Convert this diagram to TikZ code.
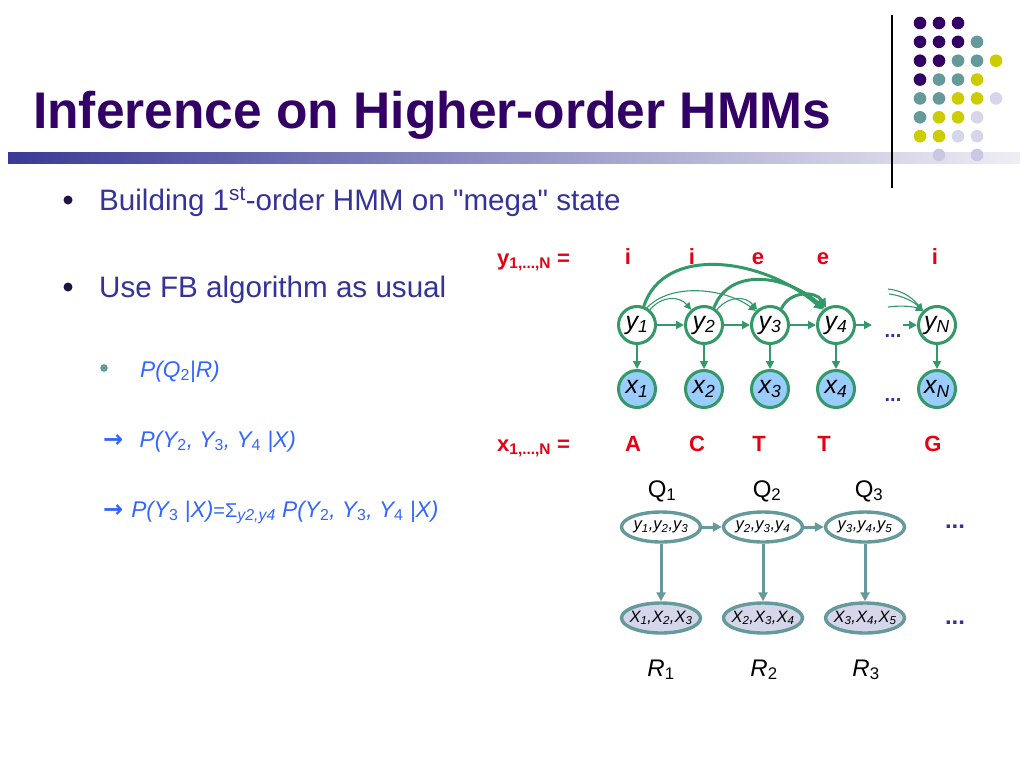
\documentclass[tikz,border=0pt]{standalone}
\usepackage{fontspec}
\setmainfont{Liberation Sans}
\newfontfamily\symfont{DejaVu Sans}
\usetikzlibrary{arrows.meta,shapes.geometric}
\definecolor{titlecol}{RGB}{51,0,102}
\definecolor{bodycol}{RGB}{51,51,153}
\definecolor{subcol}{RGB}{51,102,255}
\definecolor{hmmgreen}{RGB}{51,153,102}
\definecolor{xblue}{RGB}{153,204,255}
\definecolor{tealc}{RGB}{102,153,153}
\definecolor{lav}{RGB}{214,214,235}
\definecolor{lavdim}{RGB}{200,200,226}
\definecolor{dotpurple}{RGB}{51,0,102}
\definecolor{dotyellow}{RGB}{204,204,0}
\definecolor{redc}{RGB}{230,0,18}
\definecolor{bulletcol}{RGB}{34,17,68}
\newcommand{\usub}[1]{\textsubscript{\upshape #1}}
\newcommand{\txtarrow}{{\symfont\bfseries\fontsize{24}{26}\selectfont →}}
\begin{document}
\begin{tikzpicture}[x=1pt,y=-1pt,
  ynode/.style={circle,draw=hmmgreen,line width=3pt,fill=white,minimum size=37pt,inner sep=0pt,font=\fontsize{25}{26}\selectfont\itshape},
  xnode/.style={ynode,fill=xblue},
  garrow/.style={draw=hmmgreen,line width=1.9pt,-{Triangle[length=8pt,width=8pt]}},
  thinarrow/.style={draw=hmmgreen,line width=1.1pt,-{Triangle[length=7pt,width=7pt]}},
  thickarrow/.style={draw=hmmgreen,line width=3pt,-{Triangle[length=9pt,width=9pt]}},
  qnode/.style={ellipse,draw=tealc,line width=3.4pt,fill=white,minimum width=79pt,minimum height=30pt,inner xsep=-7pt,inner ysep=0pt,font=\fontsize{16.5}{18}\selectfont\itshape},
  rnode/.style={qnode,fill=lav},
  tarrow/.style={draw=tealc,line width=3pt,-{Triangle[length=9pt,width=9pt]}},
  redlab/.style={text=redc,font=\fontsize{22}{24}\selectfont\bfseries,inner sep=0pt},
  qlab/.style={font=\fontsize{24}{26}\selectfont,anchor=base,inner sep=0pt},
  dots/.style={text=bodycol,font=\fontsize{20}{22}\selectfont\bfseries,inner sep=0pt},
  body/.style={anchor=base west,text=bodycol,font=\fontsize{29.6}{34}\selectfont,inner sep=0pt},
  sub/.style={anchor=base west,text=subcol,font=\fontsize{22.7}{28}\selectfont,inner sep=0pt}
]
\useasboundingbox (0,0) rectangle (1024,768);
\fill[white] (0,0) rectangle (1024,768);

% header decoration
\shade[left color={rgb,255:red,58;green,58;blue,150},right color={rgb,255:red,238;green,238;blue,244}] (8,152) rectangle (1020,163);
\draw[line width=1.2pt,black] (892,15) -- (892,188);
\foreach \c/\r/\col in {0/0/dotpurple,1/0/dotpurple,2/0/dotpurple,
  0/1/dotpurple,1/1/dotpurple,2/1/dotpurple,3/1/tealc,
  0/2/dotpurple,1/2/dotpurple,2/2/tealc,3/2/tealc,4/2/dotyellow,
  0/3/dotpurple,1/3/tealc,2/3/tealc,3/3/dotyellow,
  0/4/tealc,1/4/tealc,2/4/dotyellow,3/4/dotyellow,4/4/lav,
  0/5/tealc,1/5/dotyellow,2/5/dotyellow,3/5/lav,
  0/6/dotyellow,1/6/dotyellow,2/6/lav,3/6/lav}
  \fill[\col] ({920+19*\c},{23+18.86*\r}) circle (6.3);
\fill[lavdim] (939,155) circle (6.3);
\fill[lavdim] (977,155) circle (6.3);

% title
\node[anchor=base west,text=titlecol,font=\fontsize{51.5}{60}\selectfont\bfseries,inner sep=0pt] (title) at (33,128) {Inference on Higher-order HMMs};

% bullets
\fill[bulletcol] (68,200) circle (4.5);
\node[body] (b1) at (99,210) {Building 1\textsuperscript{st}-order HMM on \textquotedbl mega\textquotedbl{} state};
\fill[bulletcol] (68,287) circle (4.5);
\node[body] (b2) at (99,297) {Use FB algorithm as usual};

\fill[tealc] (104,368) circle (3.8);
\node[sub] (s1) at (140,377) {\itshape P(Q\usub{2}|R)};
\node[sub] (s2) at (103,447) {\txtarrow\hspace{0.72em}\itshape P(Y\usub{2}, Y\usub{3}, Y\usub{4} |X)};
\node[sub] (s3) at (103,517) {\txtarrow\hspace{0.35em}\itshape P(Y\usub{3} |X){\upshape\fontsize{20}{22}\selectfont =Σ}\textsubscript{y2,y4} P(Y\usub{2}, Y\usub{3}, Y\usub{4} |X)};

% red labels
\node[redlab,anchor=base west] (ylab) at (497,265) {y\textsubscript{1,...,N} =};
\node[redlab,anchor=base west] (xlab) at (497,451) {x\textsubscript{1,...,N} =};
\foreach \n/\x/\t in {a/628/i,b/692/i,c/758/e,d/823/e,e/935/i}
  \node[redlab,anchor=base] (yl\n) at (\x,264) {\t};
\foreach \n/\x/\t in {a/633/A,b/697/C,c/759/T,d/824/T,e/933/G}
  \node[redlab,anchor=base] (xl\n) at (\x,451) {\t};

% HMM graph
\node[ynode] (y1) at (637,325) {y\textsubscript{1}};
\node[ynode] (y2) at (704,325) {y\textsubscript{2}};
\node[ynode] (y3) at (770,325) {y\textsubscript{3}};
\node[ynode] (y4) at (836,325) {y\textsubscript{4}};
\node[ynode] (yN) at (937,325) {y\textsubscript{N}};
\node[xnode] (x1) at (637,389) {x\textsubscript{1}};
\node[xnode] (x2) at (704,389) {x\textsubscript{2}};
\node[xnode] (x3) at (770,389) {x\textsubscript{3}};
\node[xnode] (x4) at (836,389) {x\textsubscript{4}};
\node[xnode] (xN) at (937,389) {x\textsubscript{N}};
\node[dots] (d1) at (893,336) {...};
\node[dots] (d2) at (893,400) {...};

\coordinate (c4) at (872,325);
\coordinate (cN) at (903,325);
\draw[garrow] (y1) -- (y2);
\draw[garrow] (y2) -- (y3);
\draw[garrow] (y3) -- (y4);
\draw[garrow] (y4) -- (c4);
\draw[garrow] (cN) -- (yN);
\foreach \i in {1,2,3,4,N} \draw[garrow] (y\i) -- (x\i);

\draw[thinarrow] (y1.50) .. controls +(12,-14) and +(-12,-14) .. (y2.130);
\draw[thinarrow] (y2.50) .. controls +(12,-14) and +(-12,-14) .. (y3.130);
\draw[thinarrow] (y1.60) .. controls +(25,-26) and +(-30,-22) .. (y3.135);
\draw[thickarrow] (y1.70) .. controls +(20,-62) and +(-60,-52) .. (y4.130);
\draw[thickarrow] (y2.60) .. controls +(15,-40) and +(-40,-35) .. (y4.125);
\draw[thickarrow] (y3.55) .. controls +(8,-18) and +(-10,-17) .. (y4.120);

\coordinate (f1) at (888,289);
\coordinate (f2) at (889,294);
\coordinate (f3) at (888,307);
\draw[thinarrow] (f1) .. controls +(18,2) and +(-8,-10) .. (yN.135);
\draw[thinarrow] (f2) .. controls +(16,2) and +(-8,-8) .. (yN.135);
\draw[thinarrow] (f3) .. controls +(14,-2) and +(-8,-4) .. (yN.135);

% mega-state chain
\node[qlab] (ql1) at (662,497) {Q\textsubscript{1}};
\node[qlab] (ql2) at (767,497) {Q\textsubscript{2}};
\node[qlab] (ql3) at (869,497) {Q\textsubscript{3}};
\node[qnode] (q1) at (661,527) {y\textsubscript{1},y\textsubscript{2},y\textsubscript{3}};
\node[qnode] (q2) at (763,527) {y\textsubscript{2},y\textsubscript{3},y\textsubscript{4}};
\node[qnode] (q3) at (865,527) {y\textsubscript{3},y\textsubscript{4},y\textsubscript{5}};
\node[rnode] (r1) at (661,618) {X\textsubscript{1},X\textsubscript{2},X\textsubscript{3}};
\node[rnode] (r2) at (763,618) {X\textsubscript{2},X\textsubscript{3},X\textsubscript{4}};
\node[rnode] (r3) at (865,618) {X\textsubscript{3},X\textsubscript{4},X\textsubscript{5}};
\node[qlab,font=\fontsize{24}{26}\selectfont\itshape] (rl1) at (661,676) {R\usub{1}};
\node[qlab,font=\fontsize{24}{26}\selectfont\itshape] (rl2) at (764,676) {R\usub{2}};
\node[qlab,font=\fontsize{24}{26}\selectfont\itshape] (rl3) at (866,676) {R\usub{3}};
\draw[tarrow] (q1) -- (q2);
\draw[tarrow] (q2) -- (q3);
\draw[tarrow] (q1) -- (r1);
\draw[tarrow] (q2) -- (r2);
\draw[tarrow] (q3) -- (r3);
\node[dots,font=\fontsize{24}{26}\selectfont\bfseries] (d3) at (955,527) {...};
\node[dots,font=\fontsize{24}{26}\selectfont\bfseries] (d4) at (955,623) {...};
\end{tikzpicture}
\end{document}
